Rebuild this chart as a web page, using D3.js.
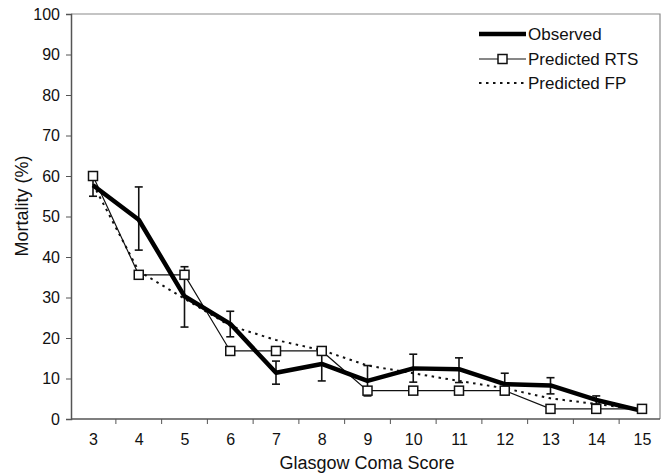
<!DOCTYPE html>
<html>
<head>
<meta charset="utf-8">
<script src="https://cdn.jsdelivr.net/npm/d3@7"></script>
<style>
body{margin:0;background:#fff;}
text{font-family:"Liberation Sans",Arial,sans-serif;fill:#111;}
</style>
</head>
<body>
<div id="chart"></div>
<script>
var gcs = [3,4,5,6,7,8,9,10,11,12,13,14,15];
var observed = [57.7,49.2,30.3,23.5,11.4,13.6,9.4,12.5,12.3,8.6,8.3,4.7,2.0];
var errLow  = [55,41.7,22.7,20.3,8.6,9.4,5.7,9.1,9.0,6.0,6.2,3.7,null];
var errHigh = [60,57.3,37.6,26.6,14.3,15.9,13.2,16.0,15.1,11.3,10.2,5.7,null];
var predRTS = [60,35.6,35.6,16.8,16.8,16.8,7.0,7.0,7.0,7.0,2.5,2.5,2.5];
var predFP  = [58,36.5,29.7,23,19.5,17,13.2,11.3,9.4,7.6,5.1,3.7,2.3];
var yTicks = [0,10,20,30,40,50,60,70,80,90,100];

var W=669, H=473;
var pLeft=71, pRight=660, pTop=14, pBottom=419;

var svg = d3.select("#chart").append("svg")
    .attr("width", W).attr("height", H);

var x = d3.scalePoint().domain(gcs).range([93,642]);
var y = d3.scaleLinear().domain([0,100]).range([pBottom, pTop]);
var step = x.step();

// cadre (haut / droite plus clair)
svg.append("path")
    .attr("d","M"+pLeft+","+pTop+"H"+pRight+"V"+pBottom)
    .attr("fill","none").attr("stroke","#8a8a8a").attr("stroke-width",1.2);

// axe y
var yAx = svg.append("g").attr("transform","translate("+pLeft+",0)")
    .call(d3.axisLeft(y).tickValues(yTicks).tickSize(5).tickPadding(6));
yAx.select(".domain").attr("stroke","#555").attr("stroke-width",1.5);
yAx.selectAll(".tick line").attr("stroke","#555");
yAx.selectAll("text").attr("font-size",16).attr("fill","#111")
    .attr("font-family","Liberation Sans, Arial, sans-serif");

// axe x: labels au centre, ticks entre les catégories
var xAx = svg.append("g").attr("transform","translate(0,"+pBottom+")")
    .call(d3.axisBottom(x).tickSize(0).tickPadding(15));
xAx.select(".domain").remove();
xAx.selectAll("text").attr("font-size",16).attr("fill","#111")
    .attr("font-family","Liberation Sans, Arial, sans-serif");
svg.append("line").attr("x1",pLeft).attr("x2",pRight)
    .attr("y1",pBottom).attr("y2",pBottom)
    .attr("stroke","#555").attr("stroke-width",1.5);
svg.selectAll(".xtick").data(gcs.slice(0,-1)).enter().append("line")
    .attr("x1",function(d){return x(d)+step/2;})
    .attr("x2",function(d){return x(d)+step/2;})
    .attr("y1",pBottom).attr("y2",pBottom+5)
    .attr("stroke","#555");

// titres
svg.append("text").attr("x",367).attr("y",469)
    .attr("text-anchor","middle").attr("font-size",18)
    .text("Glasgow Coma Score");
svg.append("text").attr("transform","translate(28,206) rotate(-90)")
    .attr("text-anchor","middle").attr("font-size",18)
    .text("Mortality (%)");

// barres d'erreur
var eb = gcs.map(function(g,i){return {g:g, lo:errLow[i], hi:errHigh[i]};})
    .filter(function(d){return d.lo!==null;});
var ebG = svg.append("g").attr("stroke","#111").attr("stroke-width",1.6);
eb.forEach(function(d){
    ebG.append("line").attr("x1",x(d.g)).attr("x2",x(d.g))
        .attr("y1",y(d.lo)).attr("y2",y(d.hi));
    ebG.append("line").attr("x1",x(d.g)-4).attr("x2",x(d.g)+4)
        .attr("y1",y(d.lo)).attr("y2",y(d.lo));
    ebG.append("line").attr("x1",x(d.g)-4).attr("x2",x(d.g)+4)
        .attr("y1",y(d.hi)).attr("y2",y(d.hi));
});

var line = d3.line()
    .x(function(d,i){return x(gcs[i]);})
    .y(function(d){return y(d);});

// FP en pointillé
svg.append("path").attr("d",line(predFP))
    .attr("fill","none").attr("stroke","#111")
    .attr("stroke-width",2).attr("stroke-dasharray","2.5,4.5");

// RTS trait fin
svg.append("path").attr("d",line(predRTS))
    .attr("fill","none").attr("stroke","#111").attr("stroke-width",1.2);

// observé trait épais
svg.append("path").attr("d",line(observed))
    .attr("fill","none").attr("stroke","#000")
    .attr("stroke-width",4.5).attr("stroke-linejoin","round");

// carrés RTS
svg.selectAll(".sq").data(predRTS).enter().append("rect")
    .attr("x",function(d,i){return x(gcs[i])-4.5;})
    .attr("y",function(d){return y(d)-4.5;})
    .attr("width",9).attr("height",9)
    .attr("fill","#fff").attr("stroke","#111").attr("stroke-width",1.5);

// légende
var lg = svg.append("g").attr("transform","translate(479,0)");
var rows = [34,59,83];
lg.append("line").attr("x1",0).attr("x2",47).attr("y1",rows[0]).attr("y2",rows[0])
    .attr("stroke","#000").attr("stroke-width",4.5);
lg.append("line").attr("x1",0).attr("x2",47).attr("y1",rows[1]).attr("y2",rows[1])
    .attr("stroke","#111").attr("stroke-width",1.2);
lg.append("rect").attr("x",19).attr("y",rows[1]-4.5).attr("width",9).attr("height",9)
    .attr("fill","#fff").attr("stroke","#111").attr("stroke-width",1.5);
lg.append("line").attr("x1",0).attr("x2",47).attr("y1",rows[2]).attr("y2",rows[2])
    .attr("stroke","#111").attr("stroke-width",2).attr("stroke-dasharray","2.5,4.5");
var names = ["Observed","Predicted RTS","Predicted FP"];
names.forEach(function(n,i){
    lg.append("text").attr("x",49).attr("y",rows[i]).attr("dy","0.36em")
        .attr("font-size",17).text(n);
});
</script>
</body>
</html>
